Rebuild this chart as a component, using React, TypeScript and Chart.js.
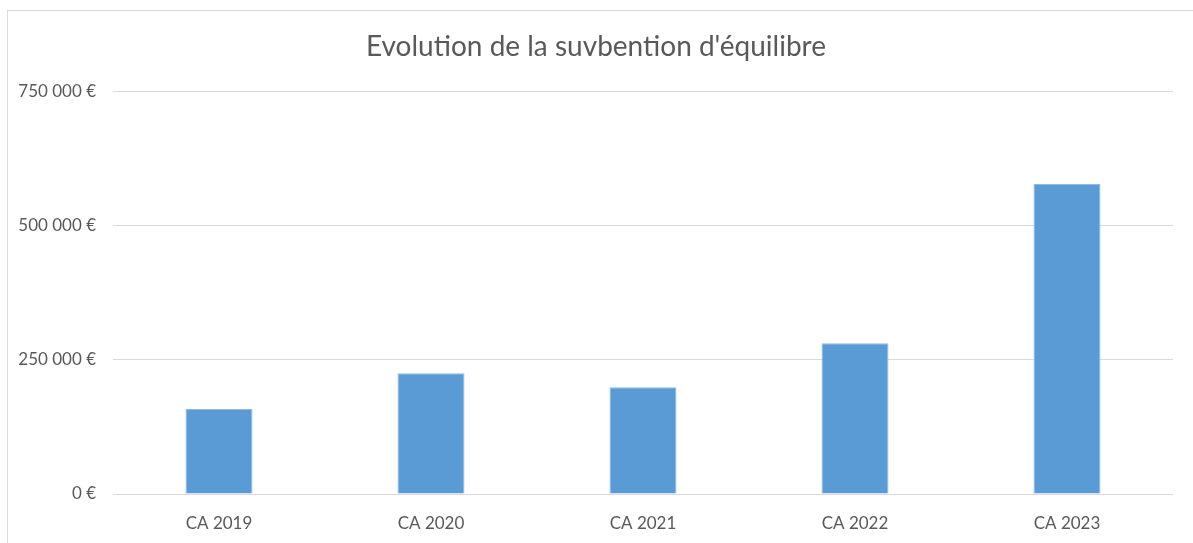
import React, { useEffect, useRef } from "react";
import { Chart, registerables } from "chart.js";

Chart.register(...registerables);

const TITLE = "Evolution de la suvbention d'équilibre";
const categories = ["CA 2019", "CA 2020", "CA 2021", "CA 2022", "CA 2023"];
const subvention = [158500, 225000, 199000, 281000, 578000];
const yTicks = [0, 250000, 500000, 750000];

function formatEuro(v: number): string {
  const s = Math.round(v).toString().replace(/\B(?=(\d{3})+(?!\d))/g, " ");
  return s + " €";
}

export default function App() {
  const ref = useRef<HTMLCanvasElement | null>(null);

  useEffect(() => {
    if (!ref.current) return;
    const chart = new Chart(ref.current, {
      type: "bar",
      data: {
        labels: categories,
        datasets: [
          {
            label: "Subvention",
            data: subvention,
            backgroundColor: "#5B9BD5",
            borderColor: "#8DBBE6",
            borderWidth: 1,
            barPercentage: 0.316,
            categoryPercentage: 1,
          },
        ],
      },
      options: {
        animation: false,
        responsive: true,
        maintainAspectRatio: false,
        layout: { padding: { left: 11, right: 20, top: 0, bottom: 0 } },
        plugins: {
          legend: { display: false },
          tooltip: { enabled: false },
          title: {
            display: true,
            text: TITLE,
            color: "#595959",
            font: { family: "Lato", size: 28, weight: "normal" },
            padding: { top: 19, bottom: 28 },
          },
        },
        scales: {
          x: {
            grid: { display: false },
            border: { display: false },
            ticks: {
              color: "#595959",
              font: { family: "Lato", size: 17 },
              padding: 11,
              maxRotation: 0,
            },
            afterFit: (scale: any) => {
              scale.height = 49;
            },
          },
          y: {
            min: 0,
            max: 750000,
            afterBuildTicks: (scale: any) => {
              scale.ticks = yTicks.map((v) => ({ value: v }));
            },
            grid: {
              color: "#d9d9d9",
              lineWidth: 1,
              drawTicks: false,
            },
            border: { display: false },
            ticks: {
              color: "#595959",
              font: { family: "Lato", size: 17 },
              padding: 17,
              callback: (v: any) => formatEuro(Number(v)),
            },
            afterFit: (scale: any) => {
              scale.width = 94;
            },
          },
        },
      },
    });
    return () => chart.destroy();
  }, []);

  return (
    <div
      style={{
        position: "absolute",
        left: 0,
        top: 0,
        width: 1193,
        height: 543,
        overflow: "hidden",
        background: "#fff",
      }}
    >
      <div
        style={{
          position: "absolute",
          left: 7,
          top: 10,
          width: 1200,
          height: 540,
          borderTop: "1px solid #d9d9d9",
          borderLeft: "1px solid #d9d9d9",
        }}
      >
        <div style={{ position: "absolute", left: 0, top: 0, width: 1185, height: 532 }}>
          <canvas ref={ref} />
        </div>
      </div>
    </div>
  );
}
